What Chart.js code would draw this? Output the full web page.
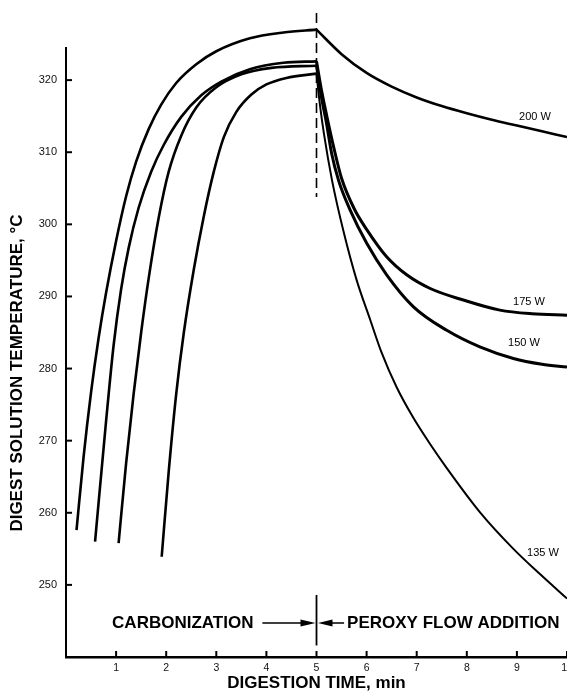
<!DOCTYPE html>
<html>
<head>
<meta charset="utf-8">
<script src="https://cdn.jsdelivr.net/npm/chart.js@4.4.0/dist/chart.umd.min.js"></script>
<style>
  html, body { margin: 0; padding: 0; background: #fff; overflow: hidden; }
  #wrap { width: 600px; height: 696px; position: relative; }
</style>
</head>
<body>
<div id="wrap"><canvas id="tempChart"></canvas></div>
<script>
// x = digestion time (min), y = digest solution temperature (deg C)
const powers = ['200 W', '175 W', '150 W', '135 W'];
const xTicks = [1, 2, 3, 4, 5, 6, 7, 8, 9, 10];
const yTicks = [250, 260, 270, 280, 290, 300, 310, 320];

// carbonization (heating) part
const heat200Time = [0.21, 0.35, 0.5, 0.65, 0.8, 1.0, 1.2, 1.4, 1.65, 1.9, 2.2, 2.6, 3.0, 3.67, 4.34, 5.0];
const heat200Temp = [257.6, 267.7, 276.7, 284.2, 290.5, 297.7, 303.9, 308.7, 313.2, 316.6, 319.6, 322.2, 324.0, 325.8, 326.6, 327.0];
const heat175Time = [0.58, 0.8, 0.95, 1.1, 1.25, 1.45, 1.7, 1.95, 2.3, 2.7, 3.1, 3.67, 4.34, 5.0];
const heat175Temp = [256.0, 272.7, 283.2, 291.0, 296.7, 302.3, 307.3, 311.0, 314.9, 317.9, 319.8, 321.5, 322.4, 322.6];
const heat150Time = [1.05, 1.2, 1.35, 1.5, 1.65, 1.85, 2.05, 2.3, 2.6, 3.0, 3.5, 4.1, 5.0];
const heat150Temp = [255.8, 266.9, 276.5, 285.0, 292.5, 300.9, 307.3, 312.3, 316.2, 319.0, 320.8, 321.7, 322.0];
const heat135Time = [1.91, 2.05, 2.2, 2.35, 2.55, 2.75, 2.95, 3.15, 3.4, 3.7, 4.0, 4.4, 5.0];
const heat135Temp = [253.9, 265.7, 276.5, 284.9, 293.7, 301.1, 307.3, 312.1, 315.6, 318.0, 319.4, 320.3, 320.9];

// peroxy flow addition (cooling) part
const cool200Time = [5.0, 5.5, 6.0, 6.5, 7.0, 7.5, 8.0, 8.5, 9.0, 9.5, 10.0];
const cool200Temp = [327.0, 323.6, 321.0, 319.1, 317.6, 316.4, 315.4, 314.5, 313.7, 312.9, 312.1];
const cool175Time = [5.0, 5.1, 5.2, 5.35, 5.5, 5.75, 6.0, 6.4, 6.8, 7.27, 7.93, 8.66, 9.3, 10.0];
const cool175Temp = [322.6, 318.6, 315.2, 310.5, 306.4, 302.2, 299.3, 295.5, 293.0, 291.1, 289.5, 288.1, 287.6, 287.4];
const cool150Time = [5.0, 5.1, 5.2, 5.3, 5.44, 5.67, 6.0, 6.4, 6.93, 7.6, 8.26, 8.93, 9.5, 10.0];
const cool150Temp = [322.0, 317.6, 314.0, 309.9, 306.1, 302.0, 297.4, 293.0, 288.6, 285.3, 283.0, 281.4, 280.6, 280.2];
const cool135Time = [5.0, 5.07, 5.15, 5.31, 5.54, 5.8, 6.07, 6.3, 6.6, 6.93, 7.27, 7.6, 8.26, 8.93, 9.46, 10.0];
const cool135Temp = [320.9, 316.5, 312.5, 306.1, 299.0, 292.3, 286.8, 282.2, 277.4, 273.2, 269.5, 266.2, 260.1, 255.0, 251.5, 248.1];

// the switch from carbonization to peroxy flow at 5 min
const switchTime = [5, 5];
const switchTopTemp = [329.3, 303.8];
const switchBottomTemp = [248.6, 241.6];

const FONT = '"Liberation Sans", Arial, Helvetica, sans-serif';

function pts(t, v) {
  return t.map(function (x, i) { return { x: x, y: v[i] }; });
}

function curve(label, t, v, w) {
  return {
    label: label,
    data: pts(t, v),
    borderColor: '#000',
    borderWidth: w,
    pointRadius: 0,
    fill: false,
    cubicInterpolationMode: 'monotone'
  };
}

const dashed = curve('switch', switchTime, switchTopTemp, 1.6);
dashed.borderDash = [10, 5];
dashed.cubicInterpolationMode = 'default';
const separator = curve('separator', switchTime, switchBottomTemp, 1.8);

// labels, arrows, axis line with ticks pointing inward
const decorations = {
  id: 'decorations',
  afterDraw(chart) {
    const { ctx, scales: { x, y }, chartArea } = chart;
    ctx.save();
    ctx.strokeStyle = '#000';
    ctx.fillStyle = '#000';

    // y axis line stops short of the top of the plot
    ctx.lineWidth = 2;
    ctx.beginPath();
    ctx.moveTo(chartArea.left, y.getPixelForValue(240) + 1);
    ctx.lineTo(chartArea.left, y.getPixelForValue(324.6));
    ctx.stroke();

    yTicks.forEach(function (v) {
      const py = y.getPixelForValue(v);
      ctx.beginPath();
      ctx.moveTo(chartArea.left, py);
      ctx.lineTo(chartArea.left + 6, py);
      ctx.stroke();
    });
    xTicks.forEach(function (v) {
      const px = x.getPixelForValue(v);
      ctx.beginPath();
      ctx.moveTo(px, chartArea.bottom);
      ctx.lineTo(px, chartArea.bottom - 6);
      ctx.stroke();
    });

    // y title
    ctx.save();
    ctx.translate(17, 373);
    ctx.rotate(-Math.PI / 2);
    ctx.font = 'bold 17px ' + FONT;
    ctx.textAlign = 'center';
    ctx.textBaseline = 'middle';
    ctx.fillText('DIGEST SOLUTION TEMPERATURE, \u00B0C', 0, 0);
    ctx.restore();

    // phase names and arrows
    const rowY = y.getPixelForValue(244.7);
    const mid = x.getPixelForValue(5);
    ctx.font = 'bold 17px ' + FONT;
    ctx.textBaseline = 'middle';
    ctx.textAlign = 'left';
    ctx.fillText('CARBONIZATION', x.getPixelForValue(0.92), rowY);
    ctx.fillText('PEROXY FLOW ADDITION', x.getPixelForValue(5.61), rowY);

    ctx.lineWidth = 1.5;
    ctx.beginPath();
    ctx.moveTo(x.getPixelForValue(3.92), rowY);
    ctx.lineTo(mid - 10, rowY);
    ctx.moveTo(mid + 10, rowY);
    ctx.lineTo(x.getPixelForValue(5.55), rowY);
    ctx.stroke();
    // arrow heads
    ctx.beginPath();
    ctx.moveTo(mid - 1, rowY);
    ctx.lineTo(mid - 16, rowY - 3.5);
    ctx.lineTo(mid - 16, rowY + 3.5);
    ctx.closePath();
    ctx.fill();
    ctx.beginPath();
    ctx.moveTo(mid + 1.5, rowY);
    ctx.lineTo(mid + 16, rowY - 3.5);
    ctx.lineTo(mid + 16, rowY + 3.5);
    ctx.closePath();
    ctx.fill();

    // power labels
    const spots = [[9.36, 314.9], [9.24, 289.2], [9.14, 283.5], [9.52, 254.4]];
    ctx.font = '11px ' + FONT;
    ctx.textAlign = 'center';
    powers.forEach(function (p, i) {
      ctx.fillText(p, x.getPixelForValue(spots[i][0]), y.getPixelForValue(spots[i][1]));
    });
    ctx.restore();
  }
};

const chart = new Chart(document.getElementById('tempChart').getContext('2d'), {
  type: 'line',
  data: {
    datasets: [
      curve(powers[0], heat200Time, heat200Temp, 2.6),
      curve(powers[0], cool200Time, cool200Temp, 2.6),
      curve(powers[1], heat175Time, heat175Temp, 2.6),
      curve(powers[1], cool175Time, cool175Temp, 3),
      curve(powers[2], heat150Time, heat150Temp, 2.6),
      curve(powers[2], cool150Time, cool150Temp, 3),
      curve(powers[3], heat135Time, heat135Temp, 2.6),
      curve(powers[3], cool135Time, cool135Temp, 2),
      dashed,
      separator
    ]
  },
  options: {
    responsive: true,
    maintainAspectRatio: false,
    animation: false,
    layout: { padding: { top: 8, right: 33, left: 0, bottom: 0 } },
    plugins: {
      legend: { display: false },
      tooltip: { enabled: false }
    },
    scales: {
      x: {
        type: 'linear',
        min: 0,
        max: 10,
        afterBuildTicks: function (s) { s.ticks = xTicks.map(function (v) { return { value: v }; }); },
        afterFit: function (s) { s.height = 39; s.paddingLeft = 0; s.paddingRight = 0; },
        grid: { display: false, drawTicks: false },
        border: { display: true, color: '#000', width: 2.5 },
        ticks: { color: '#111', font: { family: FONT, size: 10.5 }, padding: 5, maxRotation: 0, autoSkip: false },
        title: {
          display: true,
          text: 'DIGESTION TIME, min',
          color: '#000',
          font: { family: FONT, size: 17, weight: 'bold' },
          padding: { top: 0, bottom: 2 }
        }
      },
      y: {
        type: 'linear',
        min: 240,
        max: 330,
        afterBuildTicks: function (s) { s.ticks = yTicks.map(function (v) { return { value: v }; }); },
        afterFit: function (s) { s.width = 66; s.paddingTop = 0; s.paddingBottom = 0; },
        grid: { display: false, drawTicks: false },
        border: { display: false },
        ticks: { color: '#111', font: { family: FONT, size: 11 }, padding: 9 }
      }
    }
  },
  plugins: [decorations]
});
</script>
</body>
</html>
